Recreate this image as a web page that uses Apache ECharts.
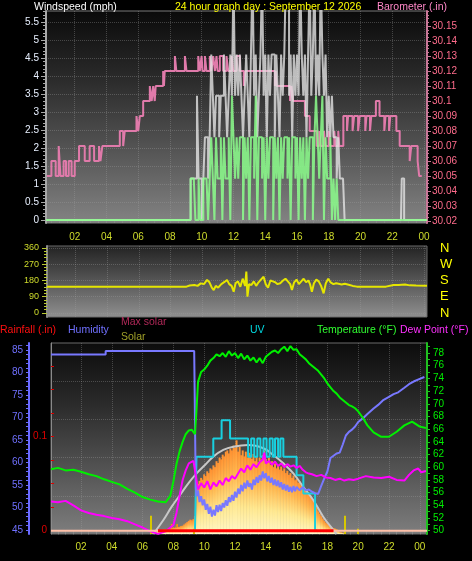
<!DOCTYPE html>
<html><head><meta charset="utf-8">
<script src="https://cdn.jsdelivr.net/npm/echarts@6/dist/echarts.min.js"></script>
<style>html,body{margin:0;padding:0;background:#000;}#c{width:472px;height:561px;}</style>
</head><body><div id="c"></div>
<script>
// ---------- helpers ----------
const seq = (a, n, s) => Array.from({length: n}, (_, i) => +(a + i * s).toFixed(3));
const zip = (xs, ys) => xs.map((x, i) => [x, ys[i]]);

// ---------- DATA ----------
const hourLabels = [2, 4, 6, 8, 10, 12, 14, 16, 18, 20, 22, 24];

// Wind (mph), 6-minute samples from 09:18
const windSampleStart = 9.3, windSampleStep = 0.1;
const gustSamples = [
  1.15,1.15,1.15,1.15,3.45,1.15,1.15,0,1.15,2.3,
  2.3,1.15,2.3,4.6,3.45,2.3,3.45,3.45,2.3,3.45,
  3.45,4.6,3.45,2.3,3.45,4.6,3.45,6.9,3.45,4.6,
  3.45,4.6,3.45,2.3,3.45,4.6,3.45,2.3,4.6,6.9,
  3.45,4.6,2.3,3.45,4.6,6.9,3.45,4.6,2.3,4.6,
  3.45,4.6,4.6,2.3,4.6,3.45,2.3,4.6,3.45,4.6,
  6.9,6.9,3.45,4.6,2.3,4.6,3.45,4.6,3.45,6.9,
  4.6,3.45,4.6,2.3,4.6,6.9,3.45,4.6,6.9,3.45,
  4.6,3.45,6.9,4.6,3.45,4.6,2.3,3.45,2.3,3.45,
  2.3,2.3,1.15,2.3,1.15,1.15,1.15,0,0,0,
  0,0,0,0];
const avgSamples = [
  1.15,1.15,1.15,0,0,1.15,0,0,1.15,1.15,
  1.15,0,1.15,2.3,1.15,0,2.3,1.15,1.15,2.3,
  0,2.3,1.15,1.15,2.3,0,3.45,2.3,1.15,2.3,
  1.15,2.3,2.3,0,2.3,1.15,2.3,0,2.3,2.3,
  1.15,3.45,0,2.3,2.3,1.15,2.3,0,2.3,1.15,
  2.3,2.3,0,2.3,1.15,2.3,0,2.3,1.15,2.3,
  2.3,1.15,2.3,0,2.3,2.3,1.15,2.3,0,2.3,
  1.15,2.3,0,2.3,1.15,2.3,2.3,0,2.3,3.45,
  2.3,1.15,2.3,3.45,0,2.3,1.15,1.15,2.3,0,
  1.15,0,1.15,0,0,0,0,0,0,0,
  0,0,0,0];
const calmStartHours = [0.19];
const calmStartMph = [0];
const lateGustHours = [22.55, 22.6, 22.75, 24.19];
const lateGustMph = [0, 1.15, 0, 0];
const lateAvgHours = [24.19];
const lateAvgMph = [0];

// Barometer (in)
const baroHours = [0.25,0.53,0.8,0.99,1.1,1.3,1.45,1.62,1.8,2.0,2.27,2.63,2.94,3.22,3.53,3.62,3.74,4.84,5.05,5.15,5.89,6.0,6.1,6.31,6.73,6.85,6.94,7.04,7.1,7.57,7.62,7.67,8.31,8.4,8.94,9.04,9.78,9.88,9.99,10.05,10.2,10.3,10.51,10.6,10.72,10.83,10.93,11.0,11.14,11.35,11.56,11.67,11.88,11.98,12.19,12.4,12.65,12.75,14.61,14.66,14.72,15.56,15.65,15.75,16.5,16.8,17.24,17.4,17.5,17.7,17.78,18.0,18.1,18.35,18.42,18.6,18.66,18.92,19.15,19.22,19.5,19.6,19.85,19.95,20.3,20.38,20.6,20.68,20.97,21.2,21.5,21.58,21.8,21.88,22.26,22.47,23.1,23.2,23.6,23.7,23.86];
const baroValues = [30.05,30.06,30.05,30.07,30.05,30.06,30.05,30.06,30.05,30.06,30.07,30.06,30.07,30.06,30.07,30.06,30.07,30.08,30.07,30.08,30.09,30.08,30.09,30.10,30.11,30.10,30.11,30.10,30.11,30.12,30.11,30.12,30.13,30.12,30.13,30.12,30.13,30.12,30.13,30.12,30.13,30.12,30.13,30.12,30.13,30.12,30.13,30.12,30.13,30.12,30.13,30.12,30.13,30.12,30.13,30.12,30.11,30.12,30.11,30.12,30.11,30.10,30.11,30.10,30.09,30.08,30.07,30.08,30.07,30.08,30.07,30.08,30.07,30.08,30.07,30.08,30.07,30.09,30.08,30.09,30.08,30.09,30.08,30.09,30.08,30.09,30.08,30.09,30.10,30.09,30.08,30.09,30.08,30.09,30.08,30.07,30.06,30.07,30.06,30.05,30.05];

// Wind direction (degrees)
const dirHours = [0.19,9.0,9.2,9.5,9.7,9.9,10.1,10.3,10.45,10.6,10.72,10.85,11.0,11.2,11.4,11.56,11.7,11.85,11.98,12.1,12.25,12.4,12.55,12.7,12.78,12.85,12.95,13.1,13.25,13.4,13.55,13.7,13.87,14.0,14.15,14.3,14.45,14.6,14.75,14.92,15.1,15.25,15.4,15.55,15.66,15.8,15.95,16.1,16.25,16.4,16.55,16.7,16.8,16.92,17.05,17.2,17.35,17.5,17.66,17.8,17.95,18.1,18.28,18.45,18.6,18.8,19.0,19.3,19.5,19.76,21.0,21.6,22.07,22.4,22.8,23.1,23.5,24.19];
const dirValues = [146,146,152,155,150,164,160,183,170,140,127,150,140,160,172,183,160,150,118,165,175,145,190,150,229,90,160,155,175,150,170,185,201,160,140,180,175,170,160,165,180,190,175,160,127,170,185,160,175,190,170,180,160,118,165,185,175,150,109,165,190,170,160,165,162,158,162,155,150,146,146,146,155,155,158,153,152,151];

// Temperature (F)
const tempHours = [0.05,0.5,1,1.5,2,2.5,3,3.5,4,4.5,5,5.5,6,6.5,7,7.5,7.8,8,8.2,8.4,8.6,8.8,9,9.2,9.4,9.5,9.6,9.8,
  10,10.2,10.4,10.6,10.8,11,11.2,11.4,11.6,11.8,12,12.2,12.4,12.6,12.8,13,13.2,13.4,13.6,13.8,14,14.2,14.4,14.6,14.8,15,15.2,15.4,15.6,15.8,16,16.2,16.4,16.6,16.8,17,17.2,17.4,17.6,17.8,18,18.2,18.4,18.6,18.8,19,19.2,19.4,19.6,19.8,
  20,20.3,20.6,21,21.5,22,22.5,23,23.5,24,24.4];
const tempValues = [59.7,59.9,59.5,59.6,59.3,58.9,58.6,58.1,57.7,57.3,56.6,56.0,55.3,54.9,54.6,54.5,55.5,57.8,60.5,62.5,64.0,65.2,65.8,65.9,65.2,69.0,73.5,75.0,
  75.4,76.0,76.8,77.2,77.8,77.5,78.0,77.4,78.3,77.6,78.0,77.2,77.9,77.0,77.6,76.8,77.3,76.5,77.2,76.4,77.4,77.8,78.2,78.4,78.0,78.6,79.0,78.3,79.1,78.5,78.6,77.8,77.4,77.0,76.4,76.0,75.6,75.2,74.6,74.0,73.2,72.6,72.0,71.6,71.0,70.6,70.2,69.8,69.6,69.3,
  68.8,67.8,66.6,65.5,64.8,64.8,65.6,66.6,67.2,66.4,66.2];

// Dew point (F)
const dewHours = [0.05,0.5,1,1.5,2,2.5,3,3.5,4,4.5,5,5.5,6,6.5,7,7.5,8,8.2,8.4,8.6,8.8,9,9.3,9.5,9.6,9.8,
  10,10.2,10.4,10.6,10.8,11,11.2,11.4,11.6,11.8,12,12.2,12.4,12.6,12.8,13,13.2,13.4,13.6,13.8,13.9,14,14.2,14.4,14.6,14.8,15,15.2,15.4,15.6,15.8,16,16.2,16.4,16.6,16.8,
  17,17.3,17.6,17.9,18.2,18.5,18.8,19.1,19.4,19.7,20,20.5,21,21.5,22,22.5,23,23.3,23.6,23.9,24.1,24.4];
const dewValues = [54.6,54.5,54.7,54.0,53.2,52.8,52.5,52.3,52.0,51.8,51.5,51.0,50.5,49.9,49.5,49.9,50.9,52.8,55.5,58.0,59.5,60.6,61.0,58.0,56.5,57.5,
  56.8,57.8,56.5,57.6,57.0,57.9,57.2,58.3,57.8,58.6,58.2,59.0,59.8,59.2,60.3,59.6,60.5,60.0,60.8,61.2,62.3,60.6,61.0,60.4,60.9,60.2,60.6,60.0,60.5,60.1,60.3,59.9,60.2,59.6,59.2,59.0,
  58.9,58.6,58.8,58.4,58.3,58.0,58.2,57.9,58.1,58.0,58.2,58.6,58.4,58.3,58.5,58.0,57.9,58.8,59.5,59.8,59.2,59.4];

// Humidity (%)
const humHours = [0.05,3.6,3.6,9.35,9.45].concat(seq(9.5, 66, 0.1)).concat(
  [16.2,16.4,16.6,16.8,17,17.2,17.4,17.6,17.8,18,18.2,18.4,18.6,18.8,19,19.2,19.4,19.6,19.8,20,20.3,20.6,21,21.3,21.6,22,22.3,22.6,23,23.3,23.6,24,24.3]);
const humValues = [84.0,84.0,84.8,84.8,54.5,
  52.5,53.8,51.2,52.5,50.5,51.8,49.5,50.8,48.6,50.2,48.0,49.5,48.2,50.5,49.0,50.6,49.2,51.0,50.0,51.6,50.4,52.3,51.2,52.8,51.5,53.5,52.2,54.2,53.0,55.0,53.6,55.5,54.2,56.0,54.6,55.4,54.0,56.2,55.0,56.8,55.5,57.2,56.0,58.0,56.5,57.6,55.8,57.0,55.5,56.6,55.0,56.2,54.8,56.0,54.5,55.6,54.0,55.2,53.8,55.0,53.5,54.6,53.4,54.8,53.6,54.6,
  53.8,54.5,53.8,54.0,53.5,53.2,53.0,54.8,56.5,58.0,61.0,61.5,62.0,62.2,64.0,66.0,66.8,67.3,68.0,69.0,69.8,70.8,72.0,72.8,73.8,74.6,75.2,75.6,76.6,77.4,78.0,78.6,79.0];

// Solar (W/m2), 6-minute samples from 06:42
const solarStart = 6.7, solarStep = 0.1;
const solarValues = [10,15,20,25,28,30,35,38,40,42,45,45,48,50,52,55,58,60,65,70,80,90,100,110,120,115,125,150,
  330,420,445,470,455,500,485,525,510,550,540,575,560,610,595,640,625,665,650,690,700,675,715,700,740,720,785,690,730,660,700,650,690,640,680,660,630,670,610,650,600,640,620,660,700,630,600,640,580,610,560,590,550,580,540,565,530,550,510,530,495,510,470,490,450,460,430,440,410,400,385,370,350,335,320,300,280,250,225,190,170,150,130,110,95,85,75,65,55,50,45,40,30,20,15,10];

// Max solar (W/m2)
const maxSolarHours = [6.7,7.35,7.89,8.43,8.97,9.51,10.05,10.59,11.24,11.89,12.87,13.84,14.49,15.14,15.79,16.43,17.08,17.73,18.38,18.6];
const maxSolarValues = [0,117,229,327,425,508,578,648,704,731,745,718,662,592,508,396,285,145,34,0];

// UV index
const uvHours = [9.4,9.5,10.59,11.13,11.68,12.65,12.85,13.05,13.25,13.45,13.65,13.85,14.05,14.25,14.45,14.6,14.8,14.95,15.14,16.0,16.44,17.2,17.3];
const uvValues = [0,4,5,6,5,5,4,5,4,5,4,5,4,5,4,5,4,5,4,3,2,0,0];

// Rainfall (in)
const rainHours = [0.05, 24.47];
const rainValues = [0, 0];
const daylightHours = [7.0, 18.4];
const sunMarkHours = [6.55, 19.1];
const moonMarkHours = [9.3, 20.0];

// ---------- build ----------
const gustData = zip(calmStartHours, calmStartMph)
  .concat(zip(seq(windSampleStart, gustSamples.length, windSampleStep), gustSamples))
  .concat(zip(lateGustHours, lateGustMph));
const avgData = zip(calmStartHours, calmStartMph)
  .concat(zip(seq(windSampleStart, avgSamples.length, windSampleStep), avgSamples))
  .concat(zip(lateAvgHours, lateAvgMph));
const solarData = zip(seq(solarStart, solarValues.length, solarStep), solarValues);

const grad = (stops) => new echarts.graphic.LinearGradient(0, 0, 0, 1, stops.map((c, i) => ({offset: i / (stops.length - 1), color: c})));
const FONT = '"Liberation Sans", Arial, sans-serif';
const TFONT = '10.5px ' + FONT;
const dots = {show: true, lineStyle: {type: 'dotted', color: 'rgba(160,160,160,0.35)', width: 1}};
const noSplit = {show: false};
const fmtHour = v => String(Math.round(v) % 24).padStart(2, '0');
const range = (a, b, s) => { const r = []; for (let v = a; v <= b + 1e-9; v += s) r.push(+v.toFixed(4)); return r; };

const xMain = (grid, min, max, withLabels, margin) => ({
  gridIndex: grid, type: 'value', min, max, position: 'bottom',
  axisLine: {show: false},
  axisTick: {show: false, customValues: hourLabels},
  axisLabel: {show: withLabels, customValues: hourLabels, formatter: fmtHour, color: '#cfdc2c', fontSize: 10, margin, fontFamily: FONT},
  splitLine: dots
});
const xMinor = (grid, min, max, len) => ({
  gridIndex: grid, type: 'value', min, max, position: 'bottom',
  axisLine: {show: false},
  axisTick: {show: true, customValues: range(0.5, 24, 0.5), length: len, lineStyle: {color: '#8a8a8a'}},
  axisLabel: {show: false}, splitLine: noSplit
});

const option = {
  backgroundColor: '#000',
  animation: false,
  textStyle: {fontFamily: FONT},
  grid: [
    {left: 46, right: 45, top: 11, height: 212, show: true, backgroundColor: grad(['#0a0a0a', '#2c2c2c', '#565656', '#838383']), borderColor: '#7a7a7a', borderWidth: 1},
    {left: 47, right: 45, top: 246, height: 71, show: true, backgroundColor: grad(['#222222', '#575757', '#909090']), borderColor: '#6a6a6a', borderWidth: 1},
    {left: 51, right: 45, top: 343, height: 191, show: true, backgroundColor: grad(['#0c0c0c', '#2c2c2c', '#545454', '#7e7e7e']), borderColor: '#6a6a6a', borderWidth: 1}
  ],
  xAxis: [
    xMain(0, 0.19, 24.19, true, 9),
    xMinor(0, 0.19, 24.19, 3),
    xMain(1, 0.19, 24.19, false, 8),
    xMain(2, 0.05, 24.47, true, 8),
    xMinor(2, 0.05, 24.47, 4)
  ],
  yAxis: [
    // 0 wind
    {gridIndex: 0, type: 'value', min: -0.083, max: 5.806, position: 'left',
     axisLine: {show: true, lineStyle: {color: '#a8a8a8', width: 2}},
     axisTick: {show: true, customValues: range(0, 5.5, 0.5), length: 5, lineStyle: {color: '#a8a8a8'}},
     axisLabel: {customValues: range(0, 5.5, 0.5), formatter: v => String(+v.toFixed(1)), color: '#e8f0ff', fontSize: 10, margin: 7},
     splitLine: dots},
    // 1 wind minor
    {gridIndex: 0, type: 'value', min: -0.083, max: 5.806, position: 'left',
     axisLine: {show: false}, axisTick: {show: true, customValues: range(0, 5.8, 0.1), length: 3, lineStyle: {color: '#a8a8a8'}},
     axisLabel: {show: false}, splitLine: noSplit},
    // 2 baro
    {gridIndex: 0, type: 'value', min: 30.0187, max: 30.16, position: 'right',
     axisLine: {show: true, lineStyle: {color: '#c87898', width: 2}},
     axisTick: {show: true, customValues: range(30.02, 30.15, 0.01), length: 4, lineStyle: {color: '#c87898'}},
     axisLabel: {customValues: range(30.02, 30.15, 0.01), formatter: v => String(+v.toFixed(2)), color: '#ff6c8c', fontSize: 10, margin: 5},
     splitLine: noSplit},
    // 3 baro minor
    {gridIndex: 0, type: 'value', min: 30.0187, max: 30.16, position: 'right',
     axisLine: {show: false}, axisTick: {show: true, customValues: range(30.02, 30.16, 0.0025), length: 2, lineStyle: {color: '#c87898'}},
     axisLabel: {show: false}, splitLine: noSplit},
    // 4 direction
    {gridIndex: 1, type: 'value', min: -22.2, max: 371, position: 'left',
     axisLine: {show: true, lineStyle: {color: '#8a8a8a', width: 2}},
     axisTick: {show: true, customValues: [0, 90, 180, 270, 360], length: 5, lineStyle: {color: '#b8c830'}},
     axisLabel: {customValues: [0, 90, 180, 270, 360], color: '#cfdc2c', fontSize: 9, margin: 8},
     splitLine: dots},
    // 5 direction minor
    {gridIndex: 1, type: 'value', min: -22.2, max: 371, position: 'left',
     axisLine: {show: false}, axisTick: {show: true, customValues: range(0, 360, 18), length: 3, lineStyle: {color: '#b8c830'}},
     axisLabel: {show: false}, splitLine: noSplit},
    // 6 compass
    {gridIndex: 1, type: 'value', min: -22.2, max: 371, position: 'right',
     axisLine: {show: false}, axisTick: {show: false, customValues: [0, 90, 180, 270, 360]},
     axisLabel: {customValues: [0, 90, 180, 270, 360], formatter: v => ({0: 'N', 90: 'E', 180: 'S', 270: 'W', 360: 'N'})[Math.round(v)], color: '#ffff00', fontSize: 13, margin: 13},
     splitLine: noSplit},
    // 7 humidity
    {gridIndex: 2, type: 'value', min: 44.11, max: 86.56, position: 'left', offset: 22,
     axisLine: {show: true, lineStyle: {color: '#6a6aff', width: 2}},
     axisTick: {show: true, customValues: range(45, 86, 1), length: 3, lineStyle: {color: '#6a6aff'}},
     axisLabel: {customValues: range(45, 85, 5), color: '#7070ff', fontSize: 10, margin: 6},
     splitLine: noSplit},
    // 8 rainfall
    {gridIndex: 2, type: 'value', min: -0.0035, max: 0.1997, position: 'left',
     axisLine: {show: true, lineStyle: {color: '#8a8a8a', width: 1}},
     axisTick: {show: true, inside: true, customValues: range(0, 0.2, 0.025), length: 3, lineStyle: {color: '#e00000'}},
     axisLabel: {customValues: [0, 0.1], formatter: v => String(+v.toFixed(3)), color: '#e00000', fontSize: 10, margin: 4},
     splitLine: noSplit},
    // 9 temperature
    {gridIndex: 2, type: 'value', min: 49.48, max: 79.58, position: 'right',
     axisLine: {show: true, lineStyle: {color: '#20c020', width: 2}},
     axisTick: {show: true, customValues: range(50, 79, 1), length: 3, lineStyle: {color: '#20c020'}},
     axisLabel: {customValues: range(50, 78, 2), color: '#00ee00', fontSize: 10, margin: 6},
     splitLine: noSplit},
    // 10 UV (hidden)
    {gridIndex: 2, type: 'value', min: -0.2, max: 10.2, show: false},
    // 11 solar (hidden)
    {gridIndex: 2, type: 'value', min: 0, max: 1600, show: false},
    // 12 panel-3 grid lines
    {gridIndex: 2, type: 'value', min: 0, max: 5, position: 'left',
     axisLine: {show: false}, axisTick: {show: false, customValues: [1, 2, 3, 4]}, axisLabel: {show: false}, splitLine: dots}
  ],
  series: [
    // panel 1
    {type: 'line', name: 'Barometer', xAxisIndex: 0, yAxisIndex: 2, data: zip(baroHours, baroValues), step: 'end', showSymbol: false,
     lineStyle: {color: '#e07aaa', width: 2}, z: 2},
    {type: 'line', name: 'Gust', xAxisIndex: 0, yAxisIndex: 0, data: gustData, step: 'end', showSymbol: false,
     lineStyle: {color: 'rgba(228,228,228,0.8)', width: 2}, z: 3},
    {type: 'line', name: 'Wind', xAxisIndex: 0, yAxisIndex: 0, data: avgData, step: 'end', showSymbol: false,
     lineStyle: {color: 'rgba(140,255,140,0.85)', width: 2}, z: 4},
    // panel 2
    {type: 'line', name: 'Direction', xAxisIndex: 2, yAxisIndex: 4, data: zip(dirHours, dirValues), showSymbol: false,
     lineStyle: {color: '#e6e600', width: 2}},
    // panel 3
    {type: 'bar', name: 'Solar', xAxisIndex: 3, yAxisIndex: 11, data: solarData, barWidth: 2,
     itemStyle: {color: grad(['#ff9030', '#ffb850', '#ffe890', '#fff8c8'])}, z: 2},
    {type: 'line', name: 'Max solar', xAxisIndex: 3, yAxisIndex: 11, data: zip(maxSolarHours, maxSolarValues), smooth: 0.4, showSymbol: false,
     lineStyle: {color: '#c8c8c8', width: 2}, z: 3},
    {type: 'line', name: 'UV', xAxisIndex: 3, yAxisIndex: 10, data: zip(uvHours, uvValues), step: 'end', showSymbol: false,
     lineStyle: {color: '#18d0e0', width: 2}, z: 4},
    {type: 'line', name: 'Humidity', xAxisIndex: 3, yAxisIndex: 7, data: zip(humHours, humValues), showSymbol: false,
     lineStyle: {color: '#7878ff', width: 2}, z: 5},
    {type: 'line', name: 'Dew Point', xAxisIndex: 3, yAxisIndex: 9, data: zip(dewHours, dewValues), showSymbol: false,
     lineStyle: {color: '#ff00ff', width: 2}, z: 6},
    {type: 'line', name: 'Temperature', xAxisIndex: 3, yAxisIndex: 9, data: zip(tempHours, tempValues), showSymbol: false,
     lineStyle: {color: '#00f000', width: 2}, z: 7},
    {type: 'line', name: 'Rainfall', xAxisIndex: 3, yAxisIndex: 8, data: zip(rainHours, rainValues), showSymbol: false,
     lineStyle: {color: '#ffc0a8', width: 2}, z: 8,
     markLine: {silent: true, symbol: 'none', label: {show: false}, lineStyle: {color: '#d8c800', width: 2, type: 'solid'},
       data: sunMarkHours.map(h => [{coord: [h, -0.0035]}, {coord: [h, 0.016]}])
         .concat(moonMarkHours.map(h => [{coord: [h, -0.0035]}, {coord: [h, 0.002]}]))}},
    {type: 'line', name: 'Daylight', xAxisIndex: 3, yAxisIndex: 8, data: zip(daylightHours, [0, 0]), showSymbol: false,
     lineStyle: {color: '#ff0000', width: 3}, z: 9}
  ],
  graphic: [
    {type: 'text', x: 34, y: 7, z: 10, style: {text: 'Windspeed (mph)', fill: '#ffffff', font: TFONT, verticalAlign: 'middle'}},
    {type: 'text', x: 175, y: 7, z: 10, style: {text: '24 hour graph day : September 12 2026', fill: '#ffff00', font: TFONT, verticalAlign: 'middle'}},
    {type: 'text', x: 377, y: 7, z: 10, style: {text: 'Barometer (.in)', fill: '#ff88c8', font: TFONT, verticalAlign: 'middle'}},
    {type: 'text', x: 0, y: 330, z: 10, style: {text: 'Rainfall (.in)', fill: '#ff1010', font: TFONT, verticalAlign: 'middle'}},
    {type: 'text', x: 68, y: 330, z: 10, style: {text: 'Humidity', fill: '#7070ff', font: TFONT, verticalAlign: 'middle'}},
    {type: 'text', x: 121, y: 322, z: 10, style: {text: 'Max solar', fill: '#b02858', font: TFONT, verticalAlign: 'middle'}},
    {type: 'text', x: 121, y: 337, z: 10, style: {text: 'Solar', fill: '#a0a028', font: TFONT, verticalAlign: 'middle'}},
    {type: 'text', x: 250, y: 330, z: 10, style: {text: 'UV', fill: '#00d8e0', font: TFONT, verticalAlign: 'middle'}},
    {type: 'text', x: 317, y: 330, z: 10, style: {text: 'Temperature (°F)', fill: '#30ff30', font: TFONT, verticalAlign: 'middle'}},
    {type: 'text', x: 400, y: 330, z: 10, style: {text: 'Dew Point (°F)', fill: '#ff30ff', font: TFONT, verticalAlign: 'middle'}},
    {type: 'text', x: 170, y: 529, z: 1, style: {text: 'Moon rise', fill: '#ff9000', font: TFONT, verticalAlign: 'middle'}}
  ]
};

const chart = echarts.init(document.getElementById('c'), null, {renderer: 'canvas'});
chart.setOption(option);
</script></body></html>
